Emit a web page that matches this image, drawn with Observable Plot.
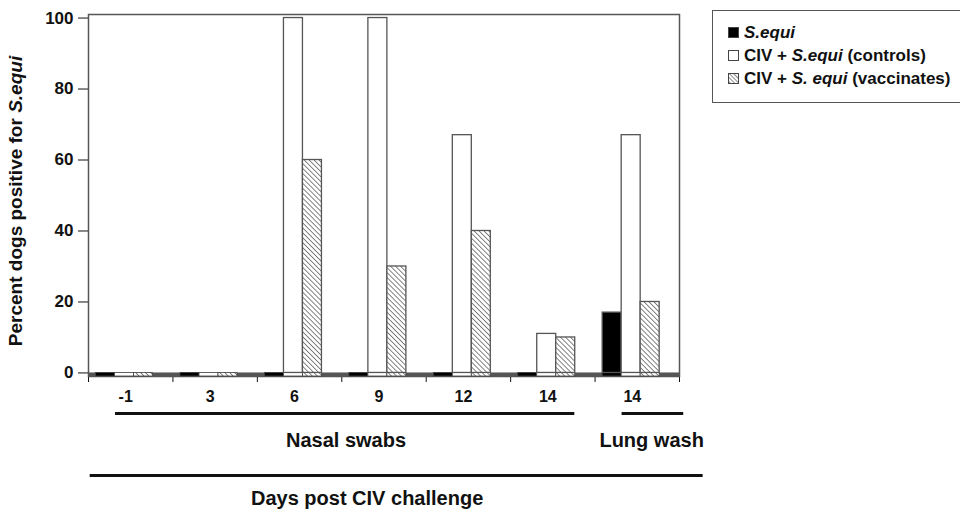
<!DOCTYPE html>
<html><head><meta charset="utf-8">
<script src="https://cdn.jsdelivr.net/npm/d3@7"></script>
<script src="https://cdn.jsdelivr.net/npm/@observablehq/plot@0.6"></script>
<style>
body{margin:0;background:#fff;font-family:"Liberation Sans",Arial,sans-serif;}
#wrap{position:relative;width:960px;height:512px;overflow:hidden;}
#legend{position:absolute;left:712px;top:10px;width:270px;height:93px;border:1.5px solid #555;box-sizing:border-box;background:#fff;font-weight:bold;font-size:17px;color:#111;padding:10px 0 0 15px;}
#legend .row{display:flex;align-items:center;height:23px;white-space:nowrap;}
#legend svg{margin-right:5px;}
</style></head><body><div id="wrap"></div>
<script>
// ---- data ----
const days = ["-1", "3", "6", "9", "12", "14", "14"];
const seriesNames = ["S.equi", "CIV + S.equi (controls)", "CIV + S. equi (vaccinates)"];
const sEqui      = [0, 0, 0, 0, 0, 0, 17];
const controls   = [0, 0, 100, 100, 67, 11, 67];
const vaccinates = [0, 0, 60, 30, 40, 10, 20];
const yTicks = [0, 20, 40, 60, 80, 100];
const sectionLabels = ["Nasal swabs", "Lung wash"];
const sectionFirst = [0, 6];
const sectionLast = [5, 6];
const xTitle = "Days post CIV challenge";
const yTitleMain = "Percent dogs positive for ";
const yTitleItalic = "S.equi";

// ---- build ----
const values = [sEqui, controls, vaccinates];
const rows = days.flatMap((d, i) => seriesNames.map((s, k) => ({i, k, s, v: values[k][i]})));
const sections = sectionLabels.map((label, j) => ({label, first: sectionFirst[j], last: sectionLast[j]}));
const overall = [{label: xTitle, first: 0, last: days.length - 1}];
const barW = 0.225, off = 0.09;
const fills = ["#000", "#fff", "url(#hatch)"];

const chart = Plot.plot({
  width: 960, height: 512,
  marginLeft: 88, marginRight: 281, marginTop: 14, marginBottom: 136,
  style: {fontFamily: "'Liberation Sans', Arial, sans-serif", fontSize: "17px", fontWeight: "bold", color: "#111", background: "#fff"},
  x: {type: "linear", domain: [0, days.length], ticks: d3.range(days.length + 1), tickFormat: () => "", tickSize: 6, label: null},
  y: {domain: [-1, 101], ticks: yTicks, tickSize: 10, tickPadding: 5, label: null},
  color: {type: "ordinal", domain: seriesNames, range: fills},
  marks: [
    Plot.frame({stroke: "#555", strokeWidth: 1.5}),
    // floor
    Plot.rect([0], {x1: 0, x2: days.length, y1: -1, y2: 0, fill: "#555"}),
    Plot.rect(rows, {x1: d => d.i + off + d.k * barW, x2: d => d.i + off + (d.k + 1) * barW, y1: -1, y2: 0, fill: "s", stroke: "#444", strokeWidth: 0.8}),
    // bars
    Plot.rect(rows.filter(d => d.v > 0), {x1: d => d.i + off + d.k * barW, x2: d => d.i + off + (d.k + 1) * barW, y1: 0, y2: "v", fill: "s", stroke: "#555", strokeWidth: 1.3}),
    // day labels
    Plot.text(days, {x: (d, i) => i + 0.5, y: -1, dy: 20, dx: -5, text: d => d, fontSize: 16}),
    // sections
    Plot.ruleY(sections, {y: -1, x1: d => d.first + 0.32, x2: d => d.last + 0.76 + (d.first === d.last ? 0.29 : 0), dy: 37, strokeWidth: 3, stroke: "#111"}),
    Plot.text(sections, {x: d => (d.first + d.last + 1) / 2 + (d.first === d.last ? 0.17 : 0.05), y: -1, dy: 64, text: "label", fontSize: 20}),
    Plot.ruleY(overall, {y: -1, x1: d => d.first + 0.02, x2: d => d.last + 1.28, dy: 99, strokeWidth: 3, stroke: "#111"}),
    Plot.text(overall, {x: d => (d.first + d.last + 1) / 2 - 0.2, y: -1, dy: 122, text: "label", fontSize: 20})
  ]
});

// hatch pattern
const svg = d3.select(chart);
const defs = svg.insert("defs", ":first-child");
const pat = defs.append("pattern").attr("id", "hatch").attr("patternUnits", "userSpaceOnUse")
  .attr("width", 3.5).attr("height", 3.5).attr("patternTransform", "rotate(-45)");
pat.append("rect").attr("width", 3.5).attr("height", 3.5).attr("fill", "#fff");
pat.append("line").attr("x1", 0).attr("y1", 0).attr("x2", 0).attr("y2", 3.5).attr("stroke", "#666").attr("stroke-width", 1.6);

// y title with italic part
const yt = svg.append("text").attr("transform", "translate(22,201) rotate(-90)")
  .attr("text-anchor", "middle").attr("font-size", 19).attr("font-weight", "bold").attr("fill", "#111");
yt.append("tspan").text(yTitleMain);
yt.append("tspan").attr("font-style", "italic").text(yTitleItalic);

document.getElementById("wrap").appendChild(chart);

// legend
const legend = document.createElement("div");
legend.id = "legend";
const swatch = k => `<svg width="11" height="11"><defs><pattern id="lh${k}" patternUnits="userSpaceOnUse" width="3" height="3" patternTransform="rotate(-45)"><rect width="3" height="3" fill="#fff"/><line x1="0" y1="0" x2="0" y2="3" stroke="#666" stroke-width="1.5"/></pattern></defs><rect x="0.5" y="0.5" width="10" height="10" fill="${k === 2 ? `url(#lh${k})` : fills[k]}" stroke="#444"/></svg>`;
const labelsHtml = [
  `<i>S.equi</i>`,
  `CIV + <i>S.equi</i> (controls)`,
  `CIV + <i>S. equi</i> (vaccinates)`
];
legend.innerHTML = seriesNames.map((s, k) => `<div class="row" title="${s}">${swatch(k)}<span>${labelsHtml[k]}</span></div>`).join("");
document.getElementById("wrap").appendChild(legend);
</script>
</body></html>
